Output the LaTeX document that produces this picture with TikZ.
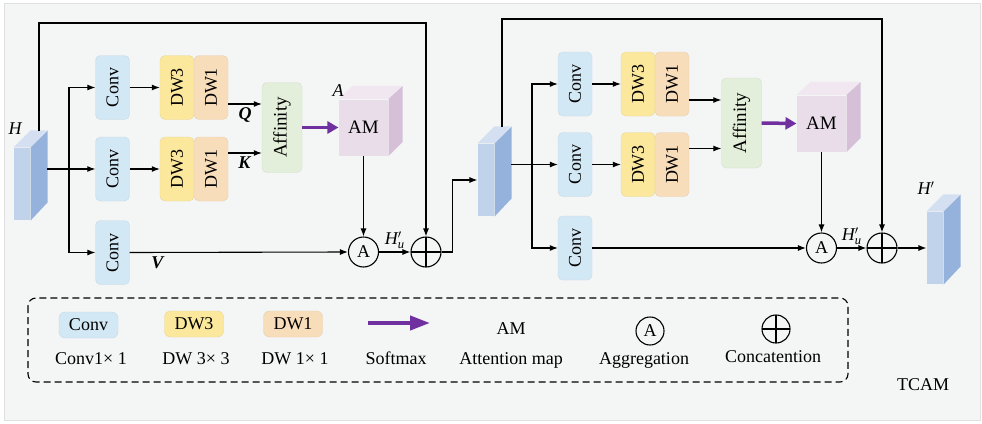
\documentclass[tikz,border=0pt]{standalone}
\usepackage{fontspec}
\setmainfont{Liberation Serif}
\usepackage{graphicx}
\usetikzlibrary{arrows.meta}

\definecolor{bgc}{HTML}{F4F5F5}
\definecolor{convc}{HTML}{D3E8F5}
\definecolor{dwac}{HTML}{FCE89C}
\definecolor{dwbc}{HTML}{F8DDBA}
\definecolor{affc}{HTML}{E3EFDA}
\definecolor{amf}{HTML}{E9DDEA}
\definecolor{ams}{HTML}{D5C0D8}
\definecolor{amt}{HTML}{F0E7F1}
\definecolor{fmf}{HTML}{C1D2EB}
\definecolor{fms}{HTML}{95B2DD}
\definecolor{fmt}{HTML}{D4E0F2}
\definecolor{smaxc}{HTML}{7030A0}

\newcommand{\fsz}[1]{\fontsize{#1}{#1}\selectfont}

\newcommand{\featmap}[2]{%
  \node[fmap] (#1) at (#2) {};
  \fill[fmt] (#1.north west) -- ++(17,-17) -- ++(16,0) -- (#1.north east) -- cycle;
  \fill[fms] (#1.north east) -- ++(17,-17) -- ++(0,72) -- (#1.south east) -- cycle;}

\newcommand{\amcube}[2]{%
  \node[amap] (#1) at (#2) {AM};
  \fill[amt] (#1.north west) -- ++(14,-13) -- ++(49,0) -- (#1.north east) -- cycle;
  \fill[ams] (#1.north east) -- ++(14,-13) -- ++(0,56) -- (#1.south east) -- cycle;}

\begin{document}
\begin{tikzpicture}[x=1pt, y=-1pt, line width=1.1pt,
  >={Latex[length=8pt,width=6pt]},
  every node/.style={font=\fsz{18}},
  box/.style={rounded corners=5pt, inner sep=0pt, line width=0.4pt,
    minimum width=34pt, minimum height=64pt},
  conv/.style={box, fill=convc, draw=convc!85!gray},
  dwa/.style={box, fill=dwac, draw=dwac!85!gray},
  dwb/.style={box, fill=dwbc, draw=dwbc!85!gray},
  aff/.style={box, fill=affc, draw=affc!85!gray, minimum width=40pt,
    minimum height=90pt, font=\fsz{19}},
  fmap/.style={rectangle, fill=fmf, inner sep=0pt, minimum width=16pt,
    minimum height=72pt},
  amap/.style={rectangle, fill=amf, inner sep=0pt, minimum width=49pt,
    minimum height=56pt, font=\fsz{19}},
  op/.style={circle, draw, line width=1.1pt, minimum size=30pt, inner sep=0pt},
  cat/.style={op, path picture={\draw (path picture bounding box.north) --
    (path picture bounding box.south) (path picture bounding box.west) --
    (path picture bounding box.east);}},
  smax/.style={line width=3.5pt, color=smaxc, -{Triangle[length=11pt,width=12pt]}},
  leg/.style={minimum width=59pt, minimum height=26pt, rounded corners=6pt},
  lbl/.style={anchor=base}]

  \fill[white] (0,0) rectangle (982,423);
  \filldraw[fill=bgc, draw=black!12, line width=0.6pt] (4,3) rectangle (980,420);

  \featmap{h1}{22,184}
  \node[font=\fsz{18}\itshape] (hl) at (15,129) {H};
  \node[conv] (c1) at (112.5,87.5) {\rotatebox{90}{Conv}};
  \node[conv] (c2) at (112.5,169) {\rotatebox{90}{Conv}};
  \node[conv] (c3) at (112.5,252.5) {\rotatebox{90}{Conv}};
  \node[dwa] (d31) at (177,87.5) {\rotatebox{90}{DW3}};
  \node[dwb] (d11) at (211,87.5) {\rotatebox{90}{DW1}};
  \node[dwa] (d32) at (177,169) {\rotatebox{90}{DW3}};
  \node[dwb] (d12) at (211,169) {\rotatebox{90}{DW1}};
  \node[aff] (a1) at (282,127.5) {\rotatebox{90}{Affinity}};
  \amcube{m1}{363.5,127.5}
  \node[font=\fsz{18}\itshape] (ml) at (338,91) {A};
  \node[op] (g1) at (363.5,252) {A};
  \node[cat] (p1) at (426,252) {};

  \coordinate (hout) at (47,169);
  \coordinate (htop) at (39,131);
  \coordinate (b1) at (69,169);
  \coordinate (q1) at ([yshift=-16.5pt]d11.east);
  \coordinate (k1) at ([yshift=16pt]d12.east);

  \draw[->] (hout) -- (c2.west);
  \draw[->] (b1) |- (c1.west);
  \draw[->] (b1) |- (c3.west);
  \draw[->] (c1.east) -- (d31.west);
  \draw[->] (c2.east) -- (d32.west);
  \draw[->] (q1) -- (q1 -| a1.west) node[midway, below]{\textbf{\textit{Q}}};
  \draw[->] (k1) -- (k1 -| a1.west) node[midway, below]{\textbf{\textit{K}}};
  \draw[smax] (a1.east) -- (m1.west);
  \draw[->] (m1.south) -- (g1.north);
  \draw[->] (c3.east) -- (g1.west) node[pos=0.13, below]{\textbf{\textit{V}}};
  \draw[->] (g1.east) -- (p1.west) node[midway, above=-1pt]{$\mathit{H}'_{\mathit{u}}$};
  \draw[->] (htop) -- ++(0,-108) -| (p1.north);

  \featmap{h2}{486,180}
  \node[conv] (c4) at (575,84) {\rotatebox{90}{Conv}};
  \node[conv] (c5) at (575,164.5) {\rotatebox{90}{Conv}};
  \node[conv] (c6) at (575,248) {\rotatebox{90}{Conv}};
  \node[dwa] (d33) at (638,84) {\rotatebox{90}{DW3}};
  \node[dwb] (d13) at (672,84) {\rotatebox{90}{DW1}};
  \node[dwa] (d34) at (638,164.5) {\rotatebox{90}{DW3}};
  \node[dwb] (d14) at (672,164.5) {\rotatebox{90}{DW1}};
  \node[aff] (a2) at (741.5,123) {\rotatebox{90}{Affinity}};
  \amcube{m2}{821.5,123.5}
  \node[op] (g2) at (821.5,248) {A};
  \node[cat] (p2) at (882,248) {};
  \featmap{h3}{935,248}
  \node (hl3) at (926,188) {$\mathit{H}'$};

  \coordinate (hout2) at (511,164.5);
  \coordinate (htop2) at (502,127);
  \coordinate (b2) at (532,164.5);
  \coordinate (q2) at ([yshift=-16pt]d13.east);
  \coordinate (k2) at ([yshift=16pt]d14.east);

  \draw[->] (p1.east) -- ++(11,0) |- (h2.west);
  \draw[->] (hout2) -- (c5.west);
  \draw[->] (b2) |- (c4.west);
  \draw[->] (b2) |- (c6.west);
  \draw[->] (c4.east) -- (d33.west);
  \draw[->] (c5.east) -- (d34.west);
  \draw[->] (q2) -- (q2 -| a2.west);
  \draw[->] (k2) -- (k2 -| a2.west);
  \draw[smax] (a2.east) -- (m2.west);
  \draw[->] (m2.south) -- (g2.north);
  \draw[->] (c6.east) -- (g2.west);
  \draw[->] (g2.east) -- (p2.west) node[midway, above=-1pt]{$\mathit{H}'_{\mathit{u}}$};
  \draw[->] (htop2) -- ++(0,-108) -| (p2.north);
  \draw[->] (p2.east) -- (h3.west);

  \draw[dash pattern=on 7pt off 4pt, rounded corners=8pt] (28,298) rectangle (848,382);
  \node[conv, leg] (lc) at (88.5,325) {Conv};
  \node[dwa, leg] (ld3) at (194,324) {DW3};
  \node[dwb, leg] (ld1) at (293,324) {DW1};
  \coordinate (s0) at (368,323);
  \coordinate (s1) at (430,323);
  \draw[smax, line width=4pt, -{Triangle[length=20pt,width=14pt]}] (s0) -- (s1);
  \node (lam) at (511,329) {AM};
  \node[op, minimum size=28pt] (lg) at (650,331) {A};
  \node[cat, minimum size=28pt] (lp) at (776,329) {};
  \node[lbl] at (91,364) {Conv1× 1};
  \node[lbl] at (196,364) {DW 3× 3};
  \node[lbl] at (295,364) {DW 1× 1};
  \node[lbl] at (396,364) {Softmax};
  \node[lbl] at (511,364) {Attention map};
  \node[lbl] at (644,364) {Aggregation};
  \node[lbl] at (773,362) {Concatention};
  \node (t) at (923,385) {TCAM};
\end{tikzpicture}
\end{document}
